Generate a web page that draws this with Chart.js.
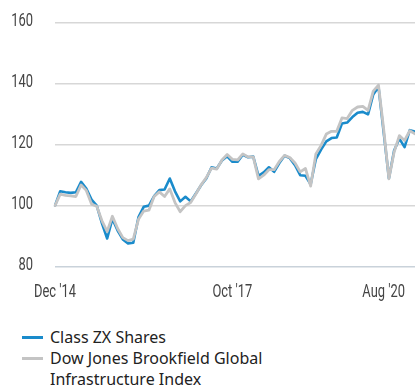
<!DOCTYPE html>
<html>
<head>
<meta charset="utf-8">
<script src="https://cdn.jsdelivr.net/npm/chart.js@4"></script>
<style>
  html, body { margin: 0; padding: 0; background: #ffffff; }
  body { width: 415px; height: 387px; position: relative; overflow: hidden; }
  #wrap { position: absolute; left: 0; top: 0; width: 415px; height: 310px; }
  #legend { position: absolute; left: 0; top: 327px; font-family: "Noto Sans", sans-serif; font-size: 16px; color: #222; line-height: 21px; }
  .item { position: relative; padding-left: 50px; }
  .sw { position: absolute; left: 22px; top: 9px; width: 21px; height: 3px; }
</style>
</head>
<body>
<div id="wrap"><canvas id="c"></canvas></div>
<div id="legend"></div>
<script>
const months = [
  "Dec '14",
  "Jan '15","Feb '15","Mar '15","Apr '15","May '15","Jun '15","Jul '15","Aug '15","Sep '15","Oct '15","Nov '15","Dec '15",
  "Jan '16","Feb '16","Mar '16","Apr '16","May '16","Jun '16","Jul '16","Aug '16","Sep '16","Oct '16","Nov '16","Dec '16",
  "Jan '17","Feb '17","Mar '17","Apr '17","May '17","Jun '17","Jul '17","Aug '17","Sep '17","Oct '17","Nov '17","Dec '17",
  "Jan '18","Feb '18","Mar '18","Apr '18","May '18","Jun '18","Jul '18","Aug '18","Sep '18","Oct '18","Nov '18","Dec '18",
  "Jan '19","Feb '19","Mar '19","Apr '19","May '19","Jun '19","Jul '19","Aug '19","Sep '19","Oct '19","Nov '19","Dec '19",
  "Jan '20","Feb '20","Mar '20","Apr '20","May '20","Jun '20","Jul '20","Aug '20","Sep '20"
];

const classZX = [
  100, 104.7, 104.4, 104.2, 104.4, 107.8, 105.6, 102, 100, 94.2,
  89.2, 95.6, 91.8, 88.9, 87.6, 87.8, 96.2, 99.6, 100, 103.1,
  105.1, 105.3, 108.9, 104.7, 101.4, 102.9, 101.4, 104, 106.7, 108.9,
  112.6, 112.2, 114.8, 116.2, 114.4, 114.4, 116.7, 115.9, 116.1, 109.8,
  110.9, 112.6, 111.1, 114, 116.4, 115.6, 113.3, 110, 109.8, 107,
  115.3, 118.4, 121.1, 122.2, 122.4, 127, 127.3, 129.1, 130.5, 130.8,
  130, 136.5, 139, 124, 109, 118.1, 122, 119.2, 124.8, 124.3
];

const brookfieldIndex = [
  100, 103.8, 103.4, 103.2, 103, 106.8, 105, 100.5, 99.8, 95,
  91.5, 96.5, 92.5, 89.5, 88.5, 89, 95.5, 98.2, 98.5, 103,
  104.5, 103, 105.5, 101, 98, 100, 101, 103.8, 106.8, 109.2,
  112.3, 112, 115, 116.8, 115.2, 115, 117, 116, 116, 108.8,
  110, 111.8, 111.8, 114.5, 116.5, 115.8, 114, 111.1, 112.2, 106.4,
  117, 119.8, 123.5, 124.4, 124.4, 128.8, 128.6, 131.3, 132.4, 132.6,
  131.3, 137.6, 139.6, 125, 108.8, 117.6, 123, 121.4, 124.6, 123.6
];

const yTicks = [80, 100, 120, 140, 160];
const xTickLabels = ["Dec '14", "Oct '17", "Aug '20"];
const seriesNames = ["Class ZX Shares", "Dow Jones Brookfield Global Infrastructure Index"];
const legendLines = [["Class ZX Shares"], ["Dow Jones Brookfield Global", "Infrastructure Index"]];

const BLUE = '#1a8bcb';
const GRAY = '#c4c4c4';
const TICK_FONT = '19px Roboto, "Liberation Sans", sans-serif';
const TICK_SX = 0.68;
const TICK_COLOR = '#444444';

function drawNarrow(ctx, text, x, y, align) {
  ctx.save();
  ctx.translate(x, y);
  ctx.scale(TICK_SX, 1);
  ctx.textAlign = align;
  ctx.fillText(text, 0, 0);
  ctx.restore();
}

const tickLabelsPlugin = {
  id: 'tickLabels',
  afterDraw(chart) {
    const ctx = chart.ctx;
    const xs = chart.scales.x;
    const ys = chart.scales.y;
    ctx.save();
    ctx.font = TICK_FONT;
    ctx.fillStyle = TICK_COLOR;
    ctx.textBaseline = 'middle';
    yTicks.forEach(v => {
      drawNarrow(ctx, String(v), ys.right - 22, ys.getPixelForValue(v) - 1.5, 'right');
    });
    xTickLabels.forEach(lbl => {
      const idx = months.indexOf(lbl);
      let x = xs.getPixelForValue(idx);
      const w = ctx.measureText(lbl).width * TICK_SX;
      x = Math.min(x, chart.width - 10 - w / 2);
      x = Math.max(x, w / 2 + 2);
      drawNarrow(ctx, lbl, x, 292, 'center');
    });
    ctx.restore();
  }
};

new Chart(document.getElementById('c'), {
  type: 'line',
  data: {
    labels: months,
    datasets: [
      { label: seriesNames[0], data: classZX, borderColor: BLUE, borderWidth: 2.6, order: 1 },
      { label: seriesNames[1], data: brookfieldIndex, borderColor: GRAY, borderWidth: 2.8, order: 0 }
    ]
  },
  options: {
    responsive: true,
    maintainAspectRatio: false,
    animation: false,
    layout: { padding: { top: 23, right: 0, bottom: 43.5, left: 0 } },
    elements: {
      point: { radius: 0, hoverRadius: 0 },
      line: { tension: 0, borderJoinStyle: 'round', borderCapStyle: 'round', fill: false }
    },
    plugins: { legend: { display: false }, tooltip: { enabled: false } },
    scales: {
      x: {
        type: 'category',
        offset: false,
        grid: { display: false, drawTicks: false },
        border: { display: false },
        ticks: { display: false }
      },
      y: {
        min: 80, max: 160,
        afterFit(scale) { scale.width = 55; },
        afterBuildTicks(scale) { scale.ticks = yTicks.map(v => ({ value: v })); },
        grid: {
          color: ctx => ctx.tick && ctx.tick.value === 80 ? '#c9d2da' : '#d7d7d7',
          lineWidth: 1.5,
          drawTicks: false
        },
        border: { display: false },
        ticks: { display: false }
      }
    }
  },
  plugins: [tickLabelsPlugin]
});

const legend = document.getElementById('legend');
[BLUE, GRAY].forEach((col, i) => {
  const item = document.createElement('div');
  item.className = 'item';
  const sw = document.createElement('span');
  sw.className = 'sw';
  sw.style.background = col;
  item.appendChild(sw);
  legendLines[i].forEach((t, j) => {
    if (j) item.appendChild(document.createElement('br'));
    item.appendChild(document.createTextNode(t));
  });
  legend.appendChild(item);
});
</script>
</body>
</html>
